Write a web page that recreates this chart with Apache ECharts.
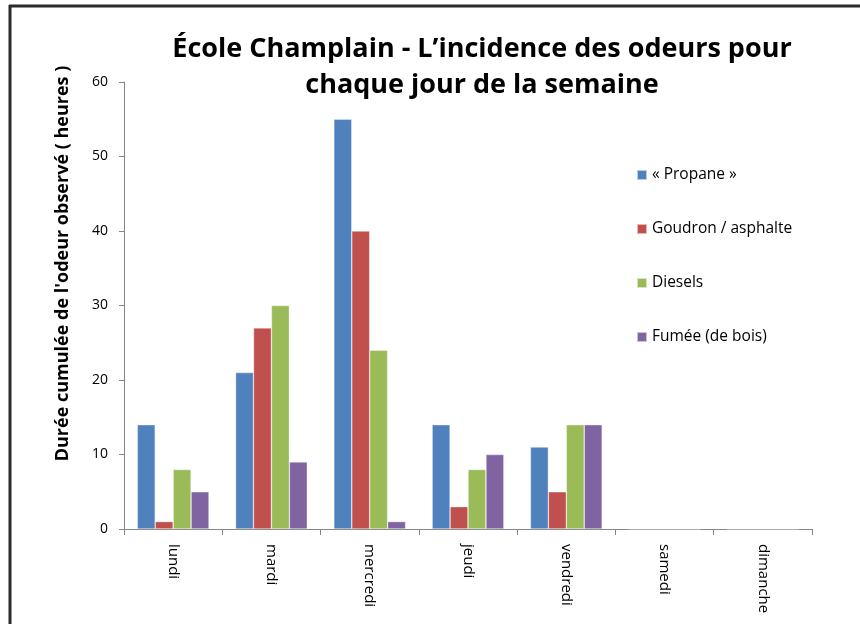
<!DOCTYPE html>
<html>
<head>
<meta charset="utf-8">
<script src="https://cdn.jsdelivr.net/npm/echarts@6/dist/echarts.min.js"></script>
<style>
  html, body { margin: 0; padding: 0; background: #fff; }
  #chart { width: 860px; height: 624px; }
</style>
</head>
<body>
<div id="chart"></div>
<script>
const days = ["lundi", "mardi", "mercredi", "jeudi", "vendredi", "samedi", "dimanche"];
const propane = [14, 21, 55, 14, 11, 0, 0];
const goudron = [1, 27, 40, 3, 5, 0, 0];
const diesels = [8, 30, 24, 8, 14, 0, 0];
const fumee = [5, 9, 1, 10, 14, 0, 0];
const seriesNames = ["« Propane »", "Goudron / asphalte", "Diesels", "Fumée (de bois)"];
const colors = ["#4F81BD", "#C0504D", "#9BBB59", "#8064A2"];

const font = "'Open Sans', 'Noto Sans', sans-serif";

const chart = echarts.init(document.getElementById("chart"));

function bar(name, data, i) {
  return {
    name: name,
    type: "bar",
    data: data,
    barGap: 0,
    barCategoryGap: "27%",
    itemStyle: { color: colors[i], borderColor: "rgba(255,255,255,0.6)", borderWidth: 0.6 },
  };
}

chart.setOption({
  animation: false,
  title: {
    text: "École Champlain - L’incidence des odeurs pour\nchaque jour de la semaine",
    left: 477,
    textAlign: "center",
    top: 26,
    textStyle: {
      fontFamily: font,
      fontWeight: "bold",
      fontSize: 27,
      lineHeight: 36,
      color: "#000",
    },
  },
  legend: {
    orient: "vertical",
    left: 631,
    top: 162,
    itemWidth: 10,
    itemHeight: 10,
    itemGap: 38,
    icon: "rect",
    textStyle: { fontFamily: font, fontSize: 15.5, color: "#000" },
    data: seriesNames,
  },
  grid: { left: 124, right: 48, top: 82, bottom: 95, containLabel: false },
  xAxis: {
    type: "category",
    data: days,
    axisLine: { lineStyle: { color: "#868686", width: 1 } },
    axisTick: { show: true, length: 6, alignWithLabel: false, lineStyle: { color: "#868686" } },
    axisLabel: { rotate: -90, fontFamily: font, fontSize: 15, color: "#000", margin: 15 },
  },
  yAxis: {
    type: "value",
    min: 0,
    max: 60,
    interval: 10,
    name: "Durée cumulée de l'odeur observé ( heures )",
    nameLocation: "middle",
    nameGap: 52,
    nameRotate: 90,
    nameTextStyle: {
      fontFamily: font, fontSize: 18, fontWeight: "bold", color: "#000",
      padding: [0, 0, 0, 84],
    },
    axisLine: { show: true, lineStyle: { color: "#868686", width: 1 } },
    axisTick: { show: true, length: 5, lineStyle: { color: "#868686" } },
    splitLine: { show: false },
    axisLabel: { fontFamily: font, fontSize: 14, color: "#000", margin: 16 },
  },
  graphic: [
    { type: "line", shape: { x1: 10, y1: 5, x2: 10, y2: 624 }, style: { stroke: "#2b2b2b", lineWidth: 3 } },
    { type: "line", shape: { x1: 9, y1: 6, x2: 860, y2: 6 }, style: { stroke: "#2b2b2b", lineWidth: 3 } },
  ],
  series: [
    bar(seriesNames[0], propane, 0),
    bar(seriesNames[1], goudron, 1),
    bar(seriesNames[2], diesels, 2),
    bar(seriesNames[3], fumee, 3),
  ],
});
</script>
</body>
</html>
